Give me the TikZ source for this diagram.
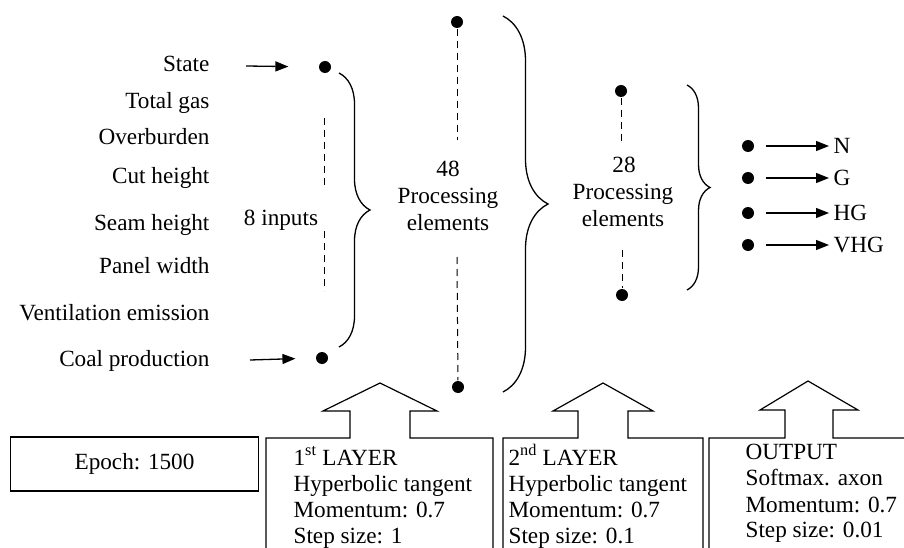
\documentclass[tikz,border=0pt]{standalone}
\usepackage{fontspec}
\setmainfont{Liberation Serif}
\usetikzlibrary{arrows.meta,decorations.pathreplacing}
\begin{document}
\begin{tikzpicture}[x=1pt,y=-1pt,line width=1.2pt,
  txt/.style={inner sep=0pt,font=\fontsize{23.2}{26}\selectfont},
  dot/.style={circle,fill=black,draw=none,inner sep=0pt,minimum size=12pt},
  arr/.style={-{Triangle[length=13pt,width=10pt]},line width=1.3pt},
  dsh/.style={dash pattern=on 7pt off 5pt,line width=1pt},
  brc/.style={decorate,decoration={brace,amplitude=#1},line width=1.3pt},
  box/.style={line width=1.2pt}]
\useasboundingbox (0,0) rectangle (904,548);
% input labels
\node[txt,anchor=base east] (l1) at (210,71.7) {State};
\node[txt,anchor=base east] (l2) at (210,109) {Total gas};
\node[txt,anchor=base east] (l3) at (210,145) {Overburden};
\node[txt,anchor=base east] (l4) at (210,184) {Cut height};
\node[txt,anchor=base east] (l5) at (210,230) {Seam height};
\node[txt,anchor=base east] (l6) at (210,273) {Panel width};
\node[txt,anchor=base east] (l7) at (210,320) {Ventilation emission};
\node[txt,anchor=base east] (l8) at (210,366) {Coal production};
\node[txt,anchor=base] (inp) at (281,225) {8 inputs};
% input dots and arrows
\node[dot] (d1) at (325,67) {};
\node[dot] (d8) at (322,358) {};
\coordinate (a1s) at (246,66);
\coordinate (a8s) at (250,360);
\draw[arr,shorten >=30pt] (a1s) -- (d1.west);
\draw[arr,shorten >=20pt] (a8s) -- (d8.west);
\coordinate (i1) at (324,118); \coordinate (i2) at (324,188);
\coordinate (i3) at (324,231); \coordinate (i4) at (324,291);
\draw[dsh] (i1) -- (i2);
\draw[dsh] (i3) -- (i4);
\coordinate (b1t) at (339,73); \coordinate (b1b) at (339,347);
\draw[brc=31pt] (b1t) -- (b1b);
% first hidden layer
\node[dot] (h1) at (457,22) {};
\node[dot] (h2) at (458,387) {};
\coordinate (h1a) at (457,140); \coordinate (h2a) at (457,257);
\draw[dsh] (h1) -- (h1a);
\draw[dsh] (h2a) -- (h2);
\node[txt,anchor=base] (t48) at (448,176) {48};
\node[txt,anchor=base] (t48b) at (448,203) {Processing};
\node[txt,anchor=base] (t48c) at (448,230) {elements};
\coordinate (b2t) at (503,16); \coordinate (b2b) at (503,392);
\draw[brc=45pt] (b2t) -- (b2b);
% second hidden layer
\node[dot] (g1) at (621,91) {};
\node[dot] (g2) at (622,295) {};
\coordinate (g1a) at (621,142); \coordinate (g2a) at (622,250);
\draw[dsh] (g1) -- (g1a);
\draw[dsh] (g2a) -- (g2);
\node[txt,anchor=base] (t28) at (624,172) {28};
\node[txt,anchor=base] (t28b) at (623,200) {Processing};
\node[txt,anchor=base] (t28c) at (623,226) {elements};
\coordinate (b3t) at (687,85); \coordinate (b3b) at (687,290);
\draw[brc=23pt] (b3t) -- (b3b);
% outputs
\foreach \i/\y/\t in {1/146/N,2/178/G,3/213/HG,4/245/VHG}{
  \node[dot] (o\i) at (748,\y) {};
  \node[txt,anchor=west] (ol\i) at (833,\y) {\t};
  \draw[arr,shorten <=11pt,shorten >=4pt] (o\i.east) -- (ol\i.west);
}
% bottom boxes
\node[txt,draw,box,minimum width=248pt,minimum height=54pt] (ep) at (134.5,464) {Epoch: 1500};
\draw[box] (266,548) -- (266,438) -- (350,438) -- (350,411) -- (323,411) -- (380,383)
  -- (437,411) -- (410,411) -- (410,438) -- (493,438) -- (493,548);
\draw[box] (503,548) -- (503,438) -- (578,438) -- (578,411) -- (553,411) -- (603,383)
  -- (653,411) -- (628,411) -- (628,438) -- (703,438) -- (703,548);
\draw[box] (709,548) -- (709,438) -- (785,438) -- (785,410) -- (760,410) -- (808,381)
  -- (858,410) -- (833,410) -- (833,438) -- (904,438);
\node[txt,anchor=base west] (p1) at (293,465) {1\textsuperscript{st} LAYER};
\node[txt,anchor=base west] (p2) at (293,491) {Hyperbolic tangent};
\node[txt,anchor=base west] (p3) at (293,517) {Momentum: 0.7};
\node[txt,anchor=base west] (p4) at (293,543) {Step size: 1};
\node[txt,anchor=base west] (q1) at (508,465) {2\textsuperscript{nd} LAYER};
\node[txt,anchor=base west] (q2) at (508,491) {Hyperbolic tangent};
\node[txt,anchor=base west] (q3) at (508,517) {Momentum: 0.7};
\node[txt,anchor=base west] (q4) at (508,543) {Step size: 0.1};
\node[txt,anchor=base west] (r1) at (745,459) {OUTPUT};
\node[txt,anchor=base west] (r2) at (745,485) {Softmax. axon};
\node[txt,anchor=base west] (r3) at (745,512) {Momentum: 0.7};
\node[txt,anchor=base west] (r4) at (745,537) {Step size: 0.01};
\end{tikzpicture}
\end{document}
